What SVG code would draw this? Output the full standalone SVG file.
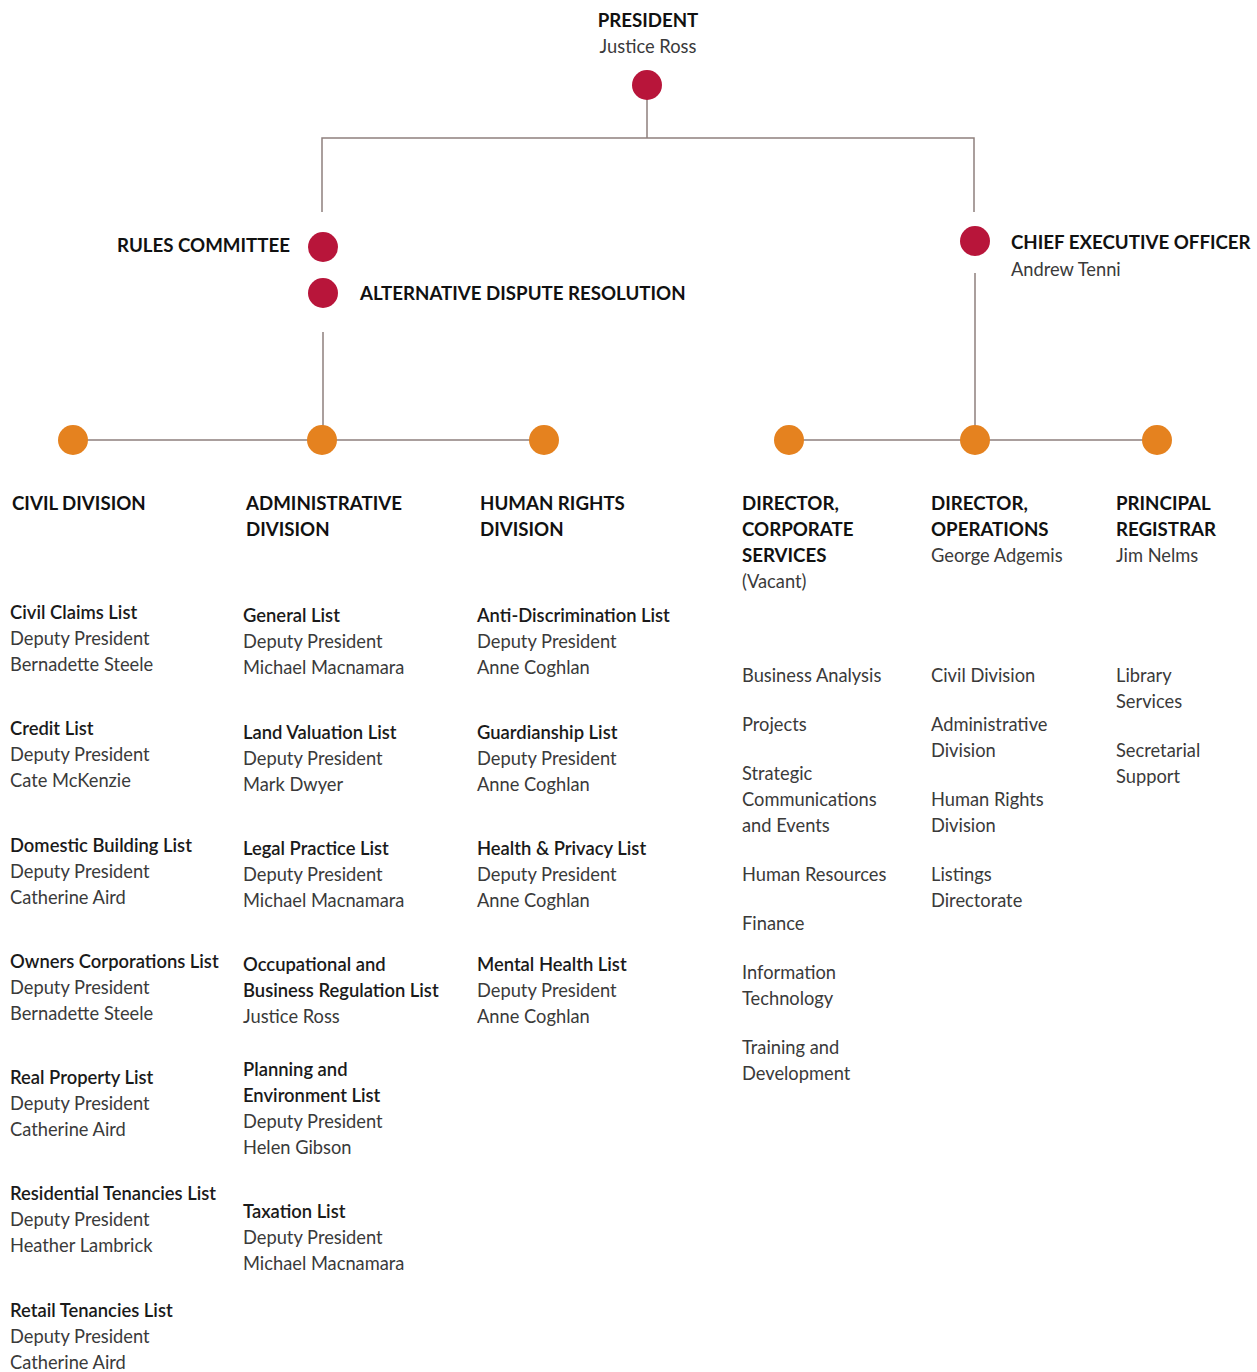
<svg xmlns="http://www.w3.org/2000/svg" width="1257" height="1372" viewBox="0 0 1257 1372">
<style>
text{font-family:Lato,"Noto Sans","Liberation Sans",sans-serif;font-size:18.3px;fill:#3a3a3a}
.h{font-weight:bold;font-size:18.7px;fill:#111}
.t{font-weight:600;font-size:18.4px;fill:#1a1a1a}
.red{fill:#b8153a}
.org{fill:#e5821f}
.ln{stroke:#8f807e;stroke-width:1.5;fill:none}
</style>
<rect width="1257" height="1372" fill="#fff"/>
<g id="connectors">
<path class="ln" d="M647 85V138M322 212V138H974V212M323 332V440M975 273V440M73 440H544M789 440H1157"/>
</g>
<g id="president"><circle class="red" cx="647" cy="85" r="15"/><text class="h" x="648" y="27" text-anchor="middle">PRESIDENT</text><text x="648" y="53" text-anchor="middle">Justice Ross</text></g>
<g id="rules"><circle class="red" cx="323" cy="247" r="15"/><text class="h" x="290" y="252" text-anchor="end">RULES COMMITTEE</text></g>
<g id="adr"><circle class="red" cx="323" cy="293" r="15"/><text class="h" x="360" y="300">ALTERNATIVE DISPUTE RESOLUTION</text></g>
<g id="ceo"><circle class="red" cx="975" cy="241" r="15"/><text class="h" x="1011" y="249">CHIEF EXECUTIVE OFFICER</text><text x="1011" y="276">Andrew Tenni</text></g>
<g id="civil"><circle class="org" cx="73" cy="440" r="15"/><text class="h" x="12" y="510">CIVIL DIVISION</text>
<text x="10" y="619" class="t">Civil Claims List</text><text x="10" y="645">Deputy President</text><text x="10" y="671">Bernadette Steele</text>
<text x="10" y="735" class="t">Credit List</text><text x="10" y="761">Deputy President</text><text x="10" y="787">Cate McKenzie</text>
<text x="10" y="852" class="t">Domestic Building List</text><text x="10" y="878">Deputy President</text><text x="10" y="904">Catherine Aird</text>
<text x="10" y="968" class="t">Owners Corporations List</text><text x="10" y="994">Deputy President</text><text x="10" y="1020">Bernadette Steele</text>
<text x="10" y="1084" class="t">Real Property List</text><text x="10" y="1110">Deputy President</text><text x="10" y="1136">Catherine Aird</text>
<text x="10" y="1200" class="t">Residential Tenancies List</text><text x="10" y="1226">Deputy President</text><text x="10" y="1252">Heather Lambrick</text>
<text x="10" y="1317" class="t">Retail Tenancies List</text><text x="10" y="1343">Deputy President</text><text x="10" y="1369">Catherine Aird</text>
</g>
<g id="admin"><circle class="org" cx="322" cy="440" r="15"/><text class="h" x="246" y="510">ADMINISTRATIVE</text><text class="h" x="246" y="536">DIVISION</text>
<text x="243" y="622" class="t">General List</text><text x="243" y="648">Deputy President</text><text x="243" y="674">Michael Macnamara</text>
<text x="243" y="739" class="t">Land Valuation List</text><text x="243" y="765">Deputy President</text><text x="243" y="791">Mark Dwyer</text>
<text x="243" y="855" class="t">Legal Practice List</text><text x="243" y="881">Deputy President</text><text x="243" y="907">Michael Macnamara</text>
<text x="243" y="971" class="t">Occupational and</text><text x="243" y="997" class="t">Business Regulation List</text><text x="243" y="1023">Justice Ross</text>
<text x="243" y="1076" class="t">Planning and</text><text x="243" y="1102" class="t">Environment List</text><text x="243" y="1128">Deputy President</text><text x="243" y="1154">Helen Gibson</text>
<text x="243" y="1218" class="t">Taxation List</text><text x="243" y="1244">Deputy President</text><text x="243" y="1270">Michael Macnamara</text>
</g>
<g id="human-rights"><circle class="org" cx="544" cy="440" r="15"/><text class="h" x="480" y="510">HUMAN RIGHTS</text><text class="h" x="480" y="536">DIVISION</text>
<text x="477" y="622" class="t">Anti-Discrimination List</text><text x="477" y="648">Deputy President</text><text x="477" y="674">Anne Coghlan</text>
<text x="477" y="739" class="t">Guardianship List</text><text x="477" y="765">Deputy President</text><text x="477" y="791">Anne Coghlan</text>
<text x="477" y="855" class="t">Health &amp; Privacy List</text><text x="477" y="881">Deputy President</text><text x="477" y="907">Anne Coghlan</text>
<text x="477" y="971" class="t">Mental Health List</text><text x="477" y="997">Deputy President</text><text x="477" y="1023">Anne Coghlan</text>
</g>
<g id="corporate"><circle class="org" cx="789" cy="440" r="15"/><text class="h" x="742" y="510">DIRECTOR,</text><text class="h" x="742" y="536">CORPORATE</text><text class="h" x="742" y="562">SERVICES</text><text x="742" y="588">(Vacant)</text>
<text x="742" y="682">Business Analysis</text><text x="742" y="731">Projects</text><text x="742" y="780">Strategic</text><text x="742" y="806">Communications</text><text x="742" y="832">and Events</text><text x="742" y="881">Human Resources</text><text x="742" y="930">Finance</text><text x="742" y="979">Information</text><text x="742" y="1005">Technology</text><text x="742" y="1054">Training and</text><text x="742" y="1080">Development</text>
</g>
<g id="operations"><circle class="org" cx="975" cy="440" r="15"/><text class="h" x="931" y="510">DIRECTOR,</text><text class="h" x="931" y="536">OPERATIONS</text><text x="931" y="562">George Adgemis</text>
<text x="931" y="682">Civil Division</text><text x="931" y="731">Administrative</text><text x="931" y="757">Division</text><text x="931" y="806">Human Rights</text><text x="931" y="832">Division</text><text x="931" y="881">Listings</text><text x="931" y="907">Directorate</text>
</g>
<g id="registrar"><circle class="org" cx="1157" cy="440" r="15"/><text class="h" x="1116" y="510">PRINCIPAL</text><text class="h" x="1116" y="536">REGISTRAR</text><text x="1116" y="562">Jim Nelms</text>
<text x="1116" y="682">Library</text><text x="1116" y="708">Services</text><text x="1116" y="757">Secretarial</text><text x="1116" y="783">Support</text>
</g>
</svg>
